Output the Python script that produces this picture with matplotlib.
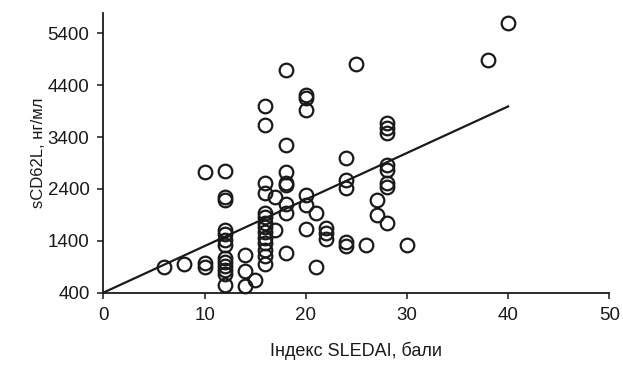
import numpy as np
import matplotlib
matplotlib.use("Agg")
import matplotlib.pyplot as plt

plt.rcParams['font.family'] = ['Liberation Sans', 'DejaVu Sans']

# SLEDAI index vs sCD62L
sledai = [6, 8, 10, 10, 10,
          12, 12, 12, 12, 12, 12, 12, 12, 12, 12, 12, 12, 12,
          14, 14, 14, 15,
          16, 16, 16, 16, 16, 16, 16, 16, 16, 16, 16, 16, 16, 16,
          17, 17,
          18, 18, 18, 18, 18, 18, 18, 18,
          20, 20, 20, 20, 20, 20,
          21, 21, 22, 22, 22,
          24, 24, 24, 24, 24, 25, 26, 27, 27,
          28, 28, 28, 28, 28, 28, 28, 28,
          30, 38, 40]
scd62l = [900, 960, 2730, 980, 900,
          2750, 2250, 2190, 1610, 1530, 1420, 1320, 1070, 990, 910, 840, 750, 550,
          1120, 820, 520, 640,
          4000, 3640, 2510, 2320, 1940, 1860, 1750, 1660, 1570, 1460, 1350, 1220, 1100, 960,
          2240, 1600,
          4690, 3240, 2730, 2510, 2470, 2110, 1930, 1160,
          4210, 4150, 3930, 2280, 2090, 1620,
          1930, 900, 1640, 1550, 1440,
          3000, 2570, 2420, 1380, 1290, 4810, 1310, 2190, 1900,
          3670, 3570, 3470, 2860, 2770, 2510, 2440, 1740,
          1310, 4880, 5600]

# trend line end points
fit_x = [0, 40]
fit_y = [400, 3990]

xticks = [0, 10, 20, 30, 40, 50]
yticks = [400, 1400, 2400, 3400, 4400, 5400]

fig = plt.figure(figsize=(6.23, 3.69), dpi=100)
ax = fig.add_axes([0.166, 0.207, 0.812, 0.759])

ax.plot(fit_x, fit_y, color='#1a1a1a', lw=1.6, zorder=2)
ax.plot(sledai, scd62l, 'o', ms=9.8, mfc='none', mec='#1a1a1a', mew=1.6,
        zorder=3, clip_on=False)

ax.set_xlim(0, 50)
ax.set_ylim(400, 5800)
ax.set_xticks(xticks)
ax.set_yticks(yticks)
ax.tick_params(direction='out', length=4, width=1.1, labelsize=13.5,
               colors='#1a1a1a', pad=6)

for s in ['top', 'right']:
    ax.spines[s].set_visible(False)
for s in ['left', 'bottom']:
    ax.spines[s].set_linewidth(1.3)
    ax.spines[s].set_color('#1a1a1a')

ax.set_xlabel('Індекс SLEDAI, бали', fontsize=13, color='#1a1a1a', labelpad=13)
ax.set_ylabel('sCD62L, нг/мл', fontsize=12, color='#1a1a1a', labelpad=1)

fig.savefig('out.png', dpi=100, facecolor='white')
